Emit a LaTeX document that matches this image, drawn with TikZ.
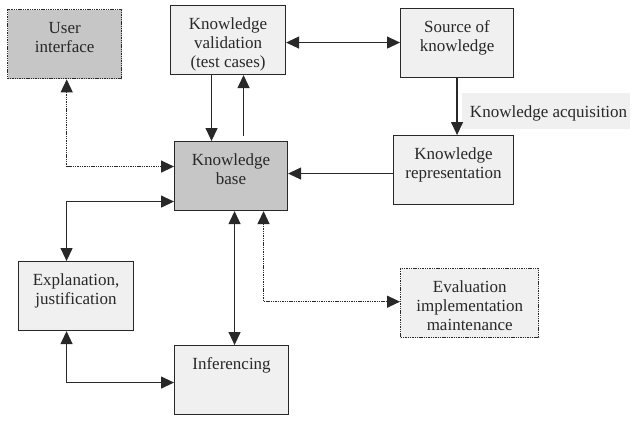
\documentclass[tikz,border=0pt]{standalone}
\usepackage{fontspec}
\setmainfont{Liberation Serif}
\usetikzlibrary{arrows.meta}
\definecolor{boxdark}{RGB}{198,198,198}
\definecolor{boxlight}{RGB}{240,240,240}
\definecolor{ink}{RGB}{40,40,40}
\tikzset{
  kbox/.style = {draw=ink, line width=1.1pt, anchor=north west, align=center,
    inner xsep=0pt, inner ysep=0pt, text=ink, font=\fontsize{17}{19}\selectfont},
  one/.style = {text height=24pt, text depth=45pt},
  two/.style = {text height=43pt, text depth=26pt},
  three/.style = {text height=62pt, text depth=7pt},
  lite/.style = {kbox, fill=boxlight},
  dark/.style = {kbox, fill=boxdark},
  dots/.style = {dash pattern=on 1.4pt off 0.9pt, line width=1.4pt},
  arr/.style = {draw=ink, line width=1.2pt, -{Triangle[length=13pt,width=12pt]}},
  both/.style = {draw=ink, line width=1.2pt, {Triangle[length=13pt,width=12pt]}-{Triangle[length=13pt,width=12pt]}}
}
\begin{document}
\begin{tikzpicture}[x=1pt, y=-1pt]
\useasboundingbox (0,0) rectangle (640,423);
\path (7,9) node[dark, two, dots, minimum width=114pt] (ui) {User\\interface};
\path (170,5) node[lite, three, minimum width=115pt] (val) {Knowledge\\validation\\(test cases)};
\path (400,8) node[lite, two, minimum width=113pt] (src) {Source of\\knowledge};
\path (174,141) node[dark, two, minimum width=113pt] (kb) {Knowledge\\base};
\path (393,135) node[lite, two, minimum width=120pt] (rep) {Knowledge\\representation};
\path (18,261) node[lite, two, minimum width=115pt] (expl) {Explanation,\\justification};
\path (400,268) node[lite, three, dots, minimum width=138pt] (eval) {Evaluation\\implementation\\maintenance};
\path (174,345) node[lite, one, minimum width=114pt] (inf) {Inferencing};
\path (462,93) node[fill=boxlight, anchor=north west, inner xsep=3pt, inner ysep=0pt,
  text width=162pt, align=flush right, text height=24pt, text depth=12pt, text=ink,
  font=\fontsize{17}{19}\selectfont] (acq) {Knowledge acquisition};
\draw[arr] ([xshift=-16.5pt]val.south) -- ([xshift=-16.5pt]val.south |- kb.north);
\draw[arr] ([xshift=12.5pt,yshift=5pt]kb.north) -- ([xshift=12.5pt]kb.north |- val.south);
\draw[both] ([yshift=-2.5pt]val.east) -- ([yshift=-2.5pt]val.east -| src.west);
\draw[arr] (src.south) -- (src.south |- rep.north);
\draw[arr] ([yshift=-3.5pt]rep.west) -- ([yshift=-3.5pt]rep.west -| kb.east);
\draw[both, dots] ([xshift=2pt]ui.south) |- ([yshift=9.5pt]kb.west);
\draw[both] ([yshift=-25.5pt]kb.west) -| ([xshift=-9.5pt]expl.north);
\draw[both] ([xshift=3.5pt]kb.south) -- ([xshift=3.5pt]kb.south |- inf.north);
\draw[both] ([xshift=-9.5pt]expl.south) |- ([yshift=-2.5pt]inf.west);
\draw[both, dots] ([xshift=32.5pt]kb.south) |- ([yshift=1.5pt]eval.west);
\end{tikzpicture}
\end{document}
